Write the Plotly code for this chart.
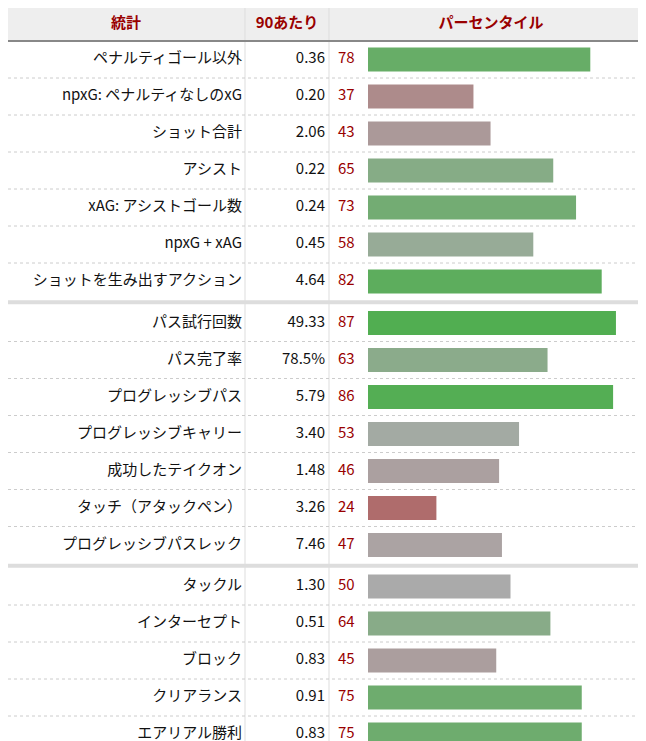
import plotly.graph_objects as go

# data
stats = ["ペナルティゴール以外", "npxG: ペナルティなしのxG", "ショット合計", "アシスト",
         "xAG: アシストゴール数", "npxG + xAG", "ショットを生み出すアクション",
         "パス試行回数", "パス完了率", "プログレッシブパス", "プログレッシブキャリー",
         "成功したテイクオン", "タッチ（アタックペン）", "プログレッシブパスレック",
         "タックル", "インターセプト", "ブロック", "クリアランス", "エアリアル勝利"]
per90 = ["0.36", "0.20", "2.06", "0.22", "0.24", "0.45", "4.64",
         "49.33", "78.5%", "5.79", "3.40", "1.48", "3.26", "7.46",
         "1.30", "0.51", "0.83", "0.91", "0.83"]
percentile = [78, 37, 43, 65, 73, 58, 82, 87, 63, 86, 53, 46, 24, 47, 50, 64, 45, 75, 75]
group = [0]*7 + [1]*7 + [2]*5
headers = ["統計", "90あたり", "パーセンタイル"]

W, H = 646, 741
HEAD = 33
ROW = 37
GAP = 4.5
ys = [HEAD + ROW/2 + i*ROW + g*GAP for i, g in enumerate(group)]


def bar_color(p):
    grey = (170, 170, 170)
    if p < 50:
        end, f = (180, 50, 50), (50 - p) / 50
    else:
        end, f = (50, 175, 50), (p - 50) / 50
    c = [round(grey[k] + (end[k] - grey[k]) * f) for k in range(3)]
    return "rgb(%d,%d,%d)" % tuple(c)


FONT = "Noto Sans CJK JP"
DARKRED = "#990000"

fig = go.Figure()
fig.add_trace(go.Bar(x=percentile, y=ys, orientation="h", width=24,
                     marker=dict(color=[bar_color(p) for p in percentile], line_width=0),
                     xaxis="x2", yaxis="y", hoverinfo="skip"))
fig.add_trace(go.Scatter(x=[234]*len(stats), y=ys, text=stats, mode="text",
                         textposition="middle left",
                         textfont=dict(family=FONT, size=15, color="#111")))
fig.add_trace(go.Scatter(x=[317]*len(stats), y=ys, text=per90, mode="text",
                         textposition="middle left",
                         textfont=dict(family=FONT, size=15, color="#111")))
fig.add_trace(go.Scatter(x=[330]*len(stats), y=ys, text=[str(p) for p in percentile],
                         mode="text", textposition="middle right",
                         textfont=dict(family=FONT, size=15, color=DARKRED)))
fig.add_trace(go.Scatter(x=[118, 279, 483], y=[16.5]*3,
                         text=["<b>%s</b>" % h for h in headers], mode="text",
                         textposition="middle center",
                         textfont=dict(family=FONT, size=15, color=DARKRED)))

shapes = [dict(type="rect", x0=0, x1=W, y0=0, y1=HEAD, fillcolor="#eeeeee",
               line_width=0, layer="below", xref="x", yref="y"),
          dict(type="line", x0=0, x1=W, y0=HEAD, y1=HEAD, line=dict(color="#888", width=2),
               xref="x", yref="y")]
for xv in [237, 321]:
    shapes.append(dict(type="line", x0=xv, x1=xv, y0=0, y1=H, xref="x", yref="y",
                       line=dict(color="#dddddd", width=1), layer="below"))
for i in range(len(stats) - 1):
    yb = ys[i] + ROW/2
    if group[i] != group[i+1]:
        shapes.append(dict(type="line", x0=0, x1=W, y0=yb + GAP/2, y1=yb + GAP/2,
                           xref="x", yref="y", line=dict(color="#dddddd", width=4),
                           layer="below"))
    else:
        shapes.append(dict(type="line", x0=0, x1=W, y0=yb, y1=yb, xref="x", yref="y",
                           line=dict(color="#cccccc", width=1, dash="dot"),
                           layer="below"))

fig.update_layout(
    width=W, height=H, margin=dict(l=0, r=0, t=0, b=0),
    paper_bgcolor="white", plot_bgcolor="rgba(0,0,0,0)", showlegend=False,
    shapes=shapes,
    xaxis=dict(range=[0, W], domain=[0, 1], visible=False, fixedrange=True),
    xaxis2=dict(range=[0, 100], domain=[360/W, 645/W], anchor="y",
                visible=False, fixedrange=True),
    yaxis=dict(range=[H, 0], visible=False, fixedrange=True),
    font=dict(family=FONT),
)

fig.write_html("out.html")
